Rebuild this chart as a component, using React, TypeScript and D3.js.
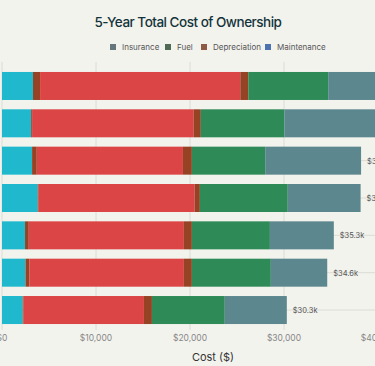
import React from "react";
import * as d3 from "d3";

const categories = ["Vehicle A", "Vehicle B", "Vehicle C", "Vehicle D", "Vehicle E", "Vehicle F", "Vehicle G"];
const seriesNames = ["Maintenance", "Repairs", "Depreciation", "Fees", "Fuel", "Insurance"];
const maintenance = [3.3, 3.1, 3.2, 3.8, 2.45, 2.5, 2.2];
const repairs = [0.75, 0.1, 0.5, 0.1, 0.4, 0.4, 0.1];
const depreciation = [21.3, 17.2, 15.55, 16.6, 16.5, 16.45, 12.8];
const fees = [0.85, 0.75, 0.95, 0.55, 0.85, 0.85, 0.85];
const fuel = [8.5, 8.9, 7.8, 9.35, 8.3, 8.4, 7.75];
const insurance = [9.5, 11.0, 10.2, 7.75, 6.8, 6.0, 6.6];
const totalLabels = ["$43.2k", "$41.1k", "$38.2k", "$38.2k", "$35.3k", "$34.6k", "$30.3k"];
const xTicks = [0, 10, 20, 30, 40];
const xTickLabels = ["$0", "$10,000", "$20,000", "$30,000", "$40,000"];
const legendNames = ["Insurance", "Fuel", "Depreciation", "Maintenance"];

const W = 375;
const H = 366;
const colors: Record<string, string> = {
  Maintenance: "#1FB8CD",
  Repairs: "#964325",
  Depreciation: "#DB4545",
  Fees: "#964325",
  Fuel: "#2E8B57",
  Insurance: "#5D878F",
};
const legendColors: Record<string, string> = {
  Insurance: "#66767d",
  Fuel: "#4f6b55",
  Depreciation: "#8f5a45",
  Maintenance: "#4d72b0",
};
const legendX: Record<string, number> = {
  Insurance: 110,
  Fuel: 165,
  Depreciation: 201,
  Maintenance: 265,
};

export default function App() {
  const rows = categories.map((c, i) => ({
    cat: c,
    Maintenance: maintenance[i],
    Repairs: repairs[i],
    Depreciation: depreciation[i],
    Fees: fees[i],
    Fuel: fuel[i],
    Insurance: insurance[i],
  }));
  const stack = d3.stack<any>().keys(seriesNames)(rows);
  const x = d3.scaleLinear().domain([0, 40]).range([2, 378]);
  const y = d3.scaleBand().domain(categories).range([67.3, 328.7]).paddingInner(0.25).paddingOuter(0.125);
  const font = "Inter, 'Liberation Sans', sans-serif";

  return (
    <div style={{ position: "fixed", left: 0, top: 0, width: W, height: H }}>
      <svg width={W} height={H} style={{ display: "block", background: "#F3F3EE" }}>
        <rect x={0} y={0} width={W} height={H} fill="#F3F3EE" />
        <text x={188} y={27} textAnchor="middle" fontFamily={font} fontSize={13.5} letterSpacing={-0.5} fontWeight={500} fill="#13343B">
          5-Year Total Cost of Ownership
        </text>
        {legendNames.map((n) => (
          <g key={n}>
            <rect x={legendX[n]} y={44} width={6} height={6} fill={legendColors[n]} />
            <text x={legendX[n] + 12} y={50} fontFamily={font} fontSize={8} fill="#555">
              {n}
            </text>
          </g>
        ))}
        {xTicks.map((t) => (
          <line key={"vg" + t} x1={x(t)} x2={x(t)} y1={62} y2={330} stroke="#dcdcd6" strokeWidth={1} />
        ))}
        {categories.map((c) => (
          <line key={"hg" + c} x1={2} x2={W} y1={y(c)! + y.bandwidth() / 2} y2={y(c)! + y.bandwidth() / 2} stroke="#dcdcd6" strokeWidth={1} />
        ))}
        {stack.map((s) => (
          <g key={s.key}>
            {s.map((d, i) => (
              <rect
                key={i}
                x={x(d[0])}
                width={Math.max(0, x(d[1]) - x(d[0]))}
                y={y(categories[i])}
                height={y.bandwidth()}
                fill={colors[s.key]}
              />
            ))}
          </g>
        ))}
        {categories.map((c, i) => {
          const last = stack[stack.length - 1][i][1];
          const lx = x(last) + 6;
          if (lx >= W) return null;
          return (
            <text key={"tl" + c} x={lx} y={y(c)! + y.bandwidth() / 2 + 3} fontFamily={font} fontSize={7.5} fill="#555">
              {totalLabels[i]}
            </text>
          );
        })}
        {xTicks.map((t, i) => (
          <text key={"xt" + t} x={x(t)} y={341} textAnchor="middle" fontFamily={font} fontSize={8.5} fill="#888">
            {xTickLabels[i]}
          </text>
        ))}
        <text x={213} y={361} textAnchor="middle" fontFamily={font} fontSize={11} fill="#333">
          Cost ($)
        </text>
      </svg>
    </div>
  );
}
